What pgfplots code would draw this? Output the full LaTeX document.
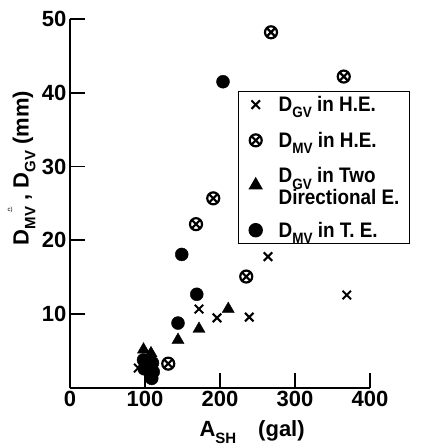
\documentclass[border=0pt]{standalone}
\usepackage{fontspec}
\setmainfont{Liberation Sans}
\newfontfamily\legfont{Liberation Sans}[FakeStretch=0.9]
\usepackage{pgfplots}
\pgfplotsset{compat=1.18}
\newcommand{\sub}[1]{\raisebox{-0.3em}{\fontsize{15}{15}\selectfont #1}}
\newcommand{\bigfont}{\fontsize{22}{24}\selectfont\bfseries}
\begin{document}
\begin{tikzpicture}
\begin{axis}[
  scale only axis, width=300pt, height=369pt,
  xmin=0, xmax=400, ymin=0, ymax=50,
  axis lines=left,
  axis line style={-, line width=1.8pt},
  xtick={0,100,200,300,400},
  ytick={10,20,30,40,50},
  tick align=inside,
  major tick length=15pt,
  every tick/.style={black, line width=1.8pt},
  /pgf/number format/assume math mode=true,
  ticklabel style={font=\bigfont},
  xlabel={A\sub{SH}\quad(gal)},
  ylabel={D\sub{MV} , D\sub{GV} (mm)},
  x label style={at={(axis description cs:0.607,0)}, anchor=center, yshift=-44pt, font=\bigfont},
  y label style={at={(axis description cs:-0.153,0.596)}, anchor=center, font=\bigfont},
  clip=false,
  legend image code/.code={%
    \path[draw=none, fill=none] (0pt,-5pt) rectangle (30pt,5pt);
    \draw[mark repeat=2,mark phase=2,#1] plot coordinates {(0pt,0pt) (9pt,0pt) (30pt,0pt)};},
  legend style={at={(axis cs:224,40.3)}, anchor=north west, draw=black,
    line width=1.4pt, font=\legfont\fontsize{21}{22}\selectfont\bfseries,
    row sep=15pt, inner xsep=8pt, inner ysep=3pt, cells={anchor=west}},
]
% D_GV in H.E.
\addplot[only marks, mark=x, mark size=6pt, mark options={line width=2pt}] coordinates {
  (264,17.8) (369,12.6) (172,10.7) (196,9.5) (239,9.6) (91,2.7)
};
\addlegendentry{D\sub{GV} in H.E.}
% D_MV in H.E.
\addplot[only marks, mark=otimes, mark size=6pt, mark options={line width=2.2pt}] coordinates {
  (268,48.2) (365,42.2) (191,25.7) (168,22.2) (235,15.1) (131,3.3)
};
\addlegendentry{D\sub{MV} in H.E.}
% D_GV in Two Directional E.
\addplot[only marks, mark=triangle*, mark size=7pt] coordinates {
  (211,10.7) (172,8.0) (144,6.5) (98,5.2) (108,4.7)
};
\addlegendentry{{\renewcommand{\arraystretch}{0.85}\begin{tabular}{@{}l@{}}D\sub{GV} in Two\\Directional\ E.\rule[-20pt]{0pt}{0pt}\end{tabular}}}
% D_MV in T.E.
\addplot[only marks, mark=*, mark size=6.5pt] coordinates {
  (204,41.5) (149,18.1) (169,12.7) (144,8.8) (98,3.8) (99,2.6) (110,3.4) (111,2.2) (109,1.3)
};
\addlegendentry{D\sub{MV} in T. E.}
\end{axis}
\node[font=\fontsize{6}{6}\selectfont] at (-60pt,178pt) {c)};
\pgfresetboundingbox
\useasboundingbox (-70pt,-58pt) rectangle (351pt,388pt);
\end{tikzpicture}
\end{document}
